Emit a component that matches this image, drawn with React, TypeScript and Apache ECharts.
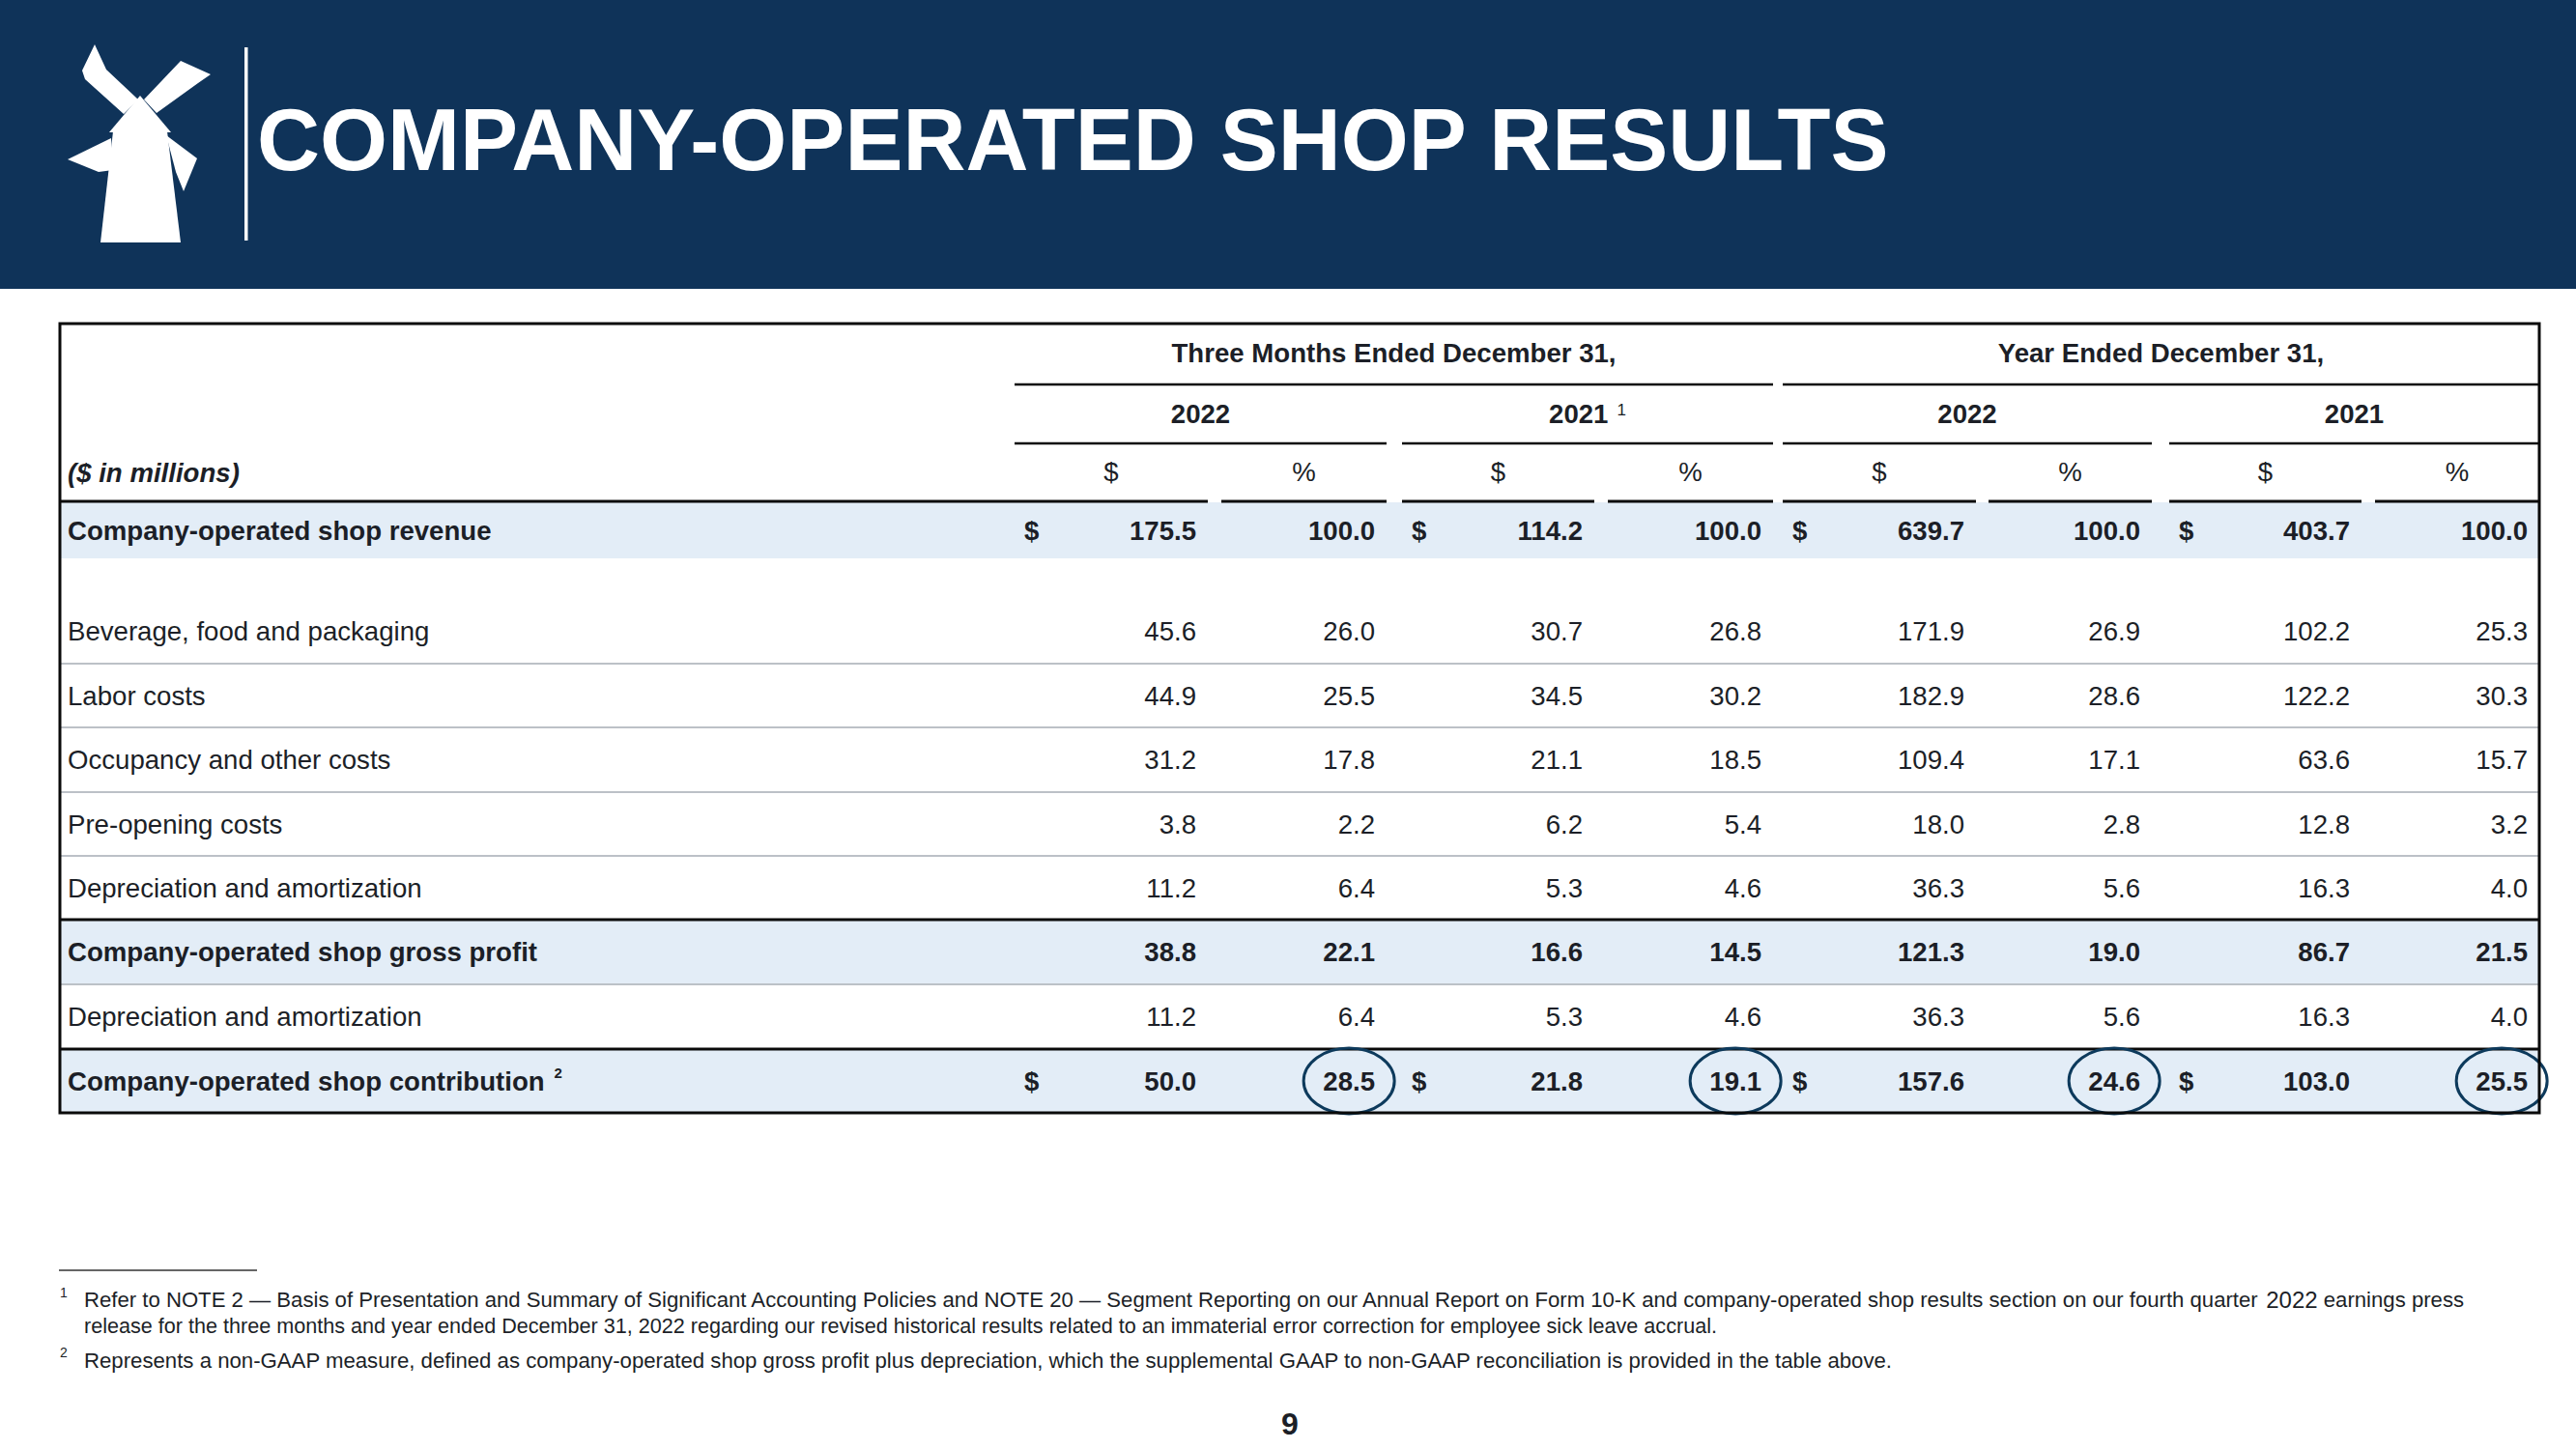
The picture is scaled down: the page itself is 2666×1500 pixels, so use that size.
import React, { useEffect, useRef } from "react";
import * as echarts from "echarts";

// ---------------- data ----------------
const slideTitle = "COMPANY-OPERATED SHOP RESULTS";
const periodHeads = ["Three Months Ended December 31,", "Year Ended December 31,"];
const yearHeads = ["2022", "2021", "2022", "2021"];
const yearNotes = ["", "1", "", ""];
const unitHeads = ["$", "%", "$", "%", "$", "%", "$", "%"];
const unitCaption = "($ in millions)";
const rowLabels = [
  "Company-operated shop revenue",
  "",
  "Beverage, food and packaging",
  "Labor costs",
  "Occupancy and other costs",
  "Pre-opening costs",
  "Depreciation and amortization",
  "Company-operated shop gross profit",
  "Depreciation and amortization",
  "Company-operated shop contribution",
];
const rowNotes = ["", "", "", "", "", "", "", "", "", "2"];
const q4_2022_usd = [175.5, null, 45.6, 44.9, 31.2, 3.8, 11.2, 38.8, 11.2, 50.0];
const q4_2022_pct = [100.0, null, 26.0, 25.5, 17.8, 2.2, 6.4, 22.1, 6.4, 28.5];
const q4_2021_usd = [114.2, null, 30.7, 34.5, 21.1, 6.2, 5.3, 16.6, 5.3, 21.8];
const q4_2021_pct = [100.0, null, 26.8, 30.2, 18.5, 5.4, 4.6, 14.5, 4.6, 19.1];
const fy_2022_usd = [639.7, null, 171.9, 182.9, 109.4, 18.0, 36.3, 121.3, 36.3, 157.6];
const fy_2022_pct = [100.0, null, 26.9, 28.6, 17.1, 2.8, 5.6, 19.0, 5.6, 24.6];
const fy_2021_usd = [403.7, null, 102.2, 122.2, 63.6, 12.8, 16.3, 86.7, 16.3, 103.0];
const fy_2021_pct = [100.0, null, 25.3, 30.3, 15.7, 3.2, 4.0, 21.5, 4.0, 25.5];
const totalRows = [true, false, false, false, false, false, false, true, false, true];
const dollarRows = [true, false, false, false, false, false, false, false, false, true];
const highlightedRows = [false, false, false, false, false, false, false, false, false, true];
const footnoteMarks = ["1", "2"];
const footnote1 = [
  "Refer to NOTE 2 \u2014 Basis of Presentation and Summary of Significant Accounting Policies and NOTE 20 \u2014 Segment Reporting on our Annual Report on Form 10-K and company-operated shop results section on our fourth quarter 2022 earnings press",
  "release for the three months and year ended December 31, 2022 regarding our revised historical results related to an immaterial error correction for employee sick leave accrual.",
];
const footnote2 = [
  "Represents a non-GAAP measure, defined as company-operated shop gross profit plus depreciation, which the supplemental GAAP to non-GAAP reconciliation is provided in the table above.",
];
const pageNumber = "9";

const valueColumns = [q4_2022_usd, q4_2022_pct, q4_2021_usd, q4_2021_pct, fy_2022_usd, fy_2022_pct, fy_2021_usd, fy_2021_pct];

// ---------------- layout / style ----------------
const FONT = '"Liberation Sans", Arial, Helvetica, sans-serif';
const INK = "#1c1f27";
const RULE_DARK = "#0a0a0a";
const RULE_LIGHT = "#bcc1c7";
const BAND = "#e3edf7";
const NAVY = "#0f3359";
const CIRCLE = "#0d3a5c";
const FS = 27.6;
const FN_SIZES = [22.15, 21.6, 22.2];

const TABLE = { left: 62, top: 335, width: 2566, height: 817 };
const LABEL_X = 8;
const VALUE_PAD = 12;
const DOLLAR_PAD = 10;
const COL_START = [988, 1202, 1389, 1602, 1783, 1996, 2183, 2396];
const COL_END = [1188, 1373, 1588, 1773, 1983, 2165, 2382, 2566];
const PERIOD_SPANS = [[988, 1773], [1783, 2566]];
const YEAR_SPANS = [[988, 1373], [1389, 1773], [1783, 2165], [2183, 2566]];
const HEAD_Y = { period: 30, periodRule: 63, year: 93.5, yearRule: 124, unit: 153, unitRule: 184 };
const ROW_EDGES = [185, 243, 285, 352, 418, 485, 551, 617, 684, 751, 817];
const ROW_RULES = ["none", "none", "light", "light", "light", "light", "dark", "light", "dark", "none"];
const ELLIPSE = { rx: 47, ry: 34 };

let measureCtx: CanvasRenderingContext2D | null = null;
function measure(text: string, size: number, weight = "normal", style = "normal") {
  if (!measureCtx) measureCtx = document.createElement("canvas").getContext("2d");
  measureCtx!.font = `${style} ${weight} ${size}px ${FONT}`;
  return measureCtx!.measureText(text).width;
}

function txt(x: number, y: number, text: string, size: number, weight: string, align: string, extra: any = {}) {
  return {
    type: "text",
    x,
    y,
    z2: 10,
    style: {
      text,
      fill: INK,
      fontSize: size,
      fontFamily: FONT,
      fontWeight: weight,
      fontStyle: extra.fontStyle || "normal",
      align,
      verticalAlign: "middle",
    },
  };
}

function renderRow(_params: any, api: any) {
  const i = api.value(1);
  const y0 = ROW_EDGES[i];
  const y1 = ROW_EDGES[i + 1];
  const yc = (y0 + y1) / 2;
  const p = (x: number, y: number) => api.coord([x, y]);
  const children: any[] = [];
  if (totalRows[i]) {
    const a = p(0, y0);
    const b = p(TABLE.width, y1);
    children.push({
      type: "rect",
      z2: 0,
      shape: { x: a[0], y: a[1], width: b[0] - a[0], height: b[1] - a[1] },
      style: { fill: BAND },
    });
  }
  const rule = ROW_RULES[i];
  if (rule !== "none") {
    const a = p(0, y1);
    const b = p(TABLE.width, y1);
    children.push({
      type: "line",
      z2: 5,
      shape: { x1: a[0], y1: a[1], x2: b[0], y2: b[1] },
      style: { stroke: rule === "dark" ? RULE_DARK : RULE_LIGHT, lineWidth: rule === "dark" ? 3 : 2 },
    });
  }
  const weight = totalRows[i] ? "bold" : "normal";
  if (rowLabels[i]) {
    const lp = p(LABEL_X, yc);
    children.push(txt(lp[0], lp[1], rowLabels[i], FS, weight, "left"));
    if (rowNotes[i]) {
      const w = measure(rowLabels[i], FS, weight);
      children.push(txt(lp[0] + w + 10, lp[1] - 9, rowNotes[i], 15, weight, "left"));
    }
  }
  valueColumns.forEach((col, c) => {
    const v = col[i];
    if (v == null) return;
    const s = (v as number).toFixed(1);
    const vp = p(COL_END[c] - VALUE_PAD, yc);
    children.push(txt(vp[0], vp[1], s, FS, weight, "right"));
    if (dollarRows[i] && c % 2 === 0) {
      const dp = p(COL_START[c] + DOLLAR_PAD, yc);
      children.push(txt(dp[0], dp[1], "$", FS, weight, "left"));
    }
    if (highlightedRows[i] && c % 2 === 1) {
      const w = measure(s, FS, weight);
      const sz = api.size([ELLIPSE.rx, ELLIPSE.ry]);
      children.push({
        type: "ellipse",
        z2: 12,
        shape: { cx: vp[0] - w / 2, cy: vp[1], rx: Math.abs(sz[0]), ry: Math.abs(sz[1]) },
        style: { fill: "none", stroke: CIRCLE, lineWidth: 3 },
      });
    }
  });
  return { type: "group", children };
}

function renderHeader(_params: any, api: any) {
  const p = (x: number, y: number) => api.coord([x, y]);
  const children: any[] = [];
  const hline = (x1: number, x2: number, y: number, w: number) => {
    const a = p(x1, y);
    const b = p(x2, y);
    return { type: "line", z2: 6, shape: { x1: a[0], y1: a[1], x2: b[0], y2: b[1] }, style: { stroke: RULE_DARK, lineWidth: w } };
  };
  PERIOD_SPANS.forEach((s, k) => {
    const c = p((s[0] + s[1]) / 2, HEAD_Y.period);
    children.push(txt(c[0], c[1], periodHeads[k], FS, "bold", "center"));
    children.push(hline(s[0], s[1], HEAD_Y.periodRule, 2.5));
  });
  YEAR_SPANS.forEach((s, k) => {
    const c = p((s[0] + s[1]) / 2, HEAD_Y.year);
    const note = yearNotes[k];
    if (note) {
      const wy = measure(yearHeads[k], FS, "bold");
      const gap = 9;
      const wn = measure(note, 17, "normal");
      const left = c[0] - (wy + gap + wn) / 2;
      children.push(txt(left, c[1], yearHeads[k], FS, "bold", "left"));
      children.push(txt(left + wy + gap, c[1] - 4, note, 17, "normal", "left"));
    } else {
      children.push(txt(c[0], c[1], yearHeads[k], FS, "bold", "center"));
    }
    children.push(hline(s[0], s[1], HEAD_Y.yearRule, 2.5));
  });
  unitHeads.forEach((u, c) => {
    const cp = p((COL_START[c] + COL_END[c]) / 2, HEAD_Y.unit);
    children.push(txt(cp[0], cp[1], u, FS, "normal", "center"));
    children.push(hline(c === 0 ? 0 : COL_START[c], COL_END[c], HEAD_Y.unitRule, 3));
  });
  const cap = p(LABEL_X, HEAD_Y.unit + 1);
  children.push(txt(cap[0], cap[1], unitCaption, FS, "bold", "left", { fontStyle: "italic" }));
  const a = p(0, 0);
  const b = p(TABLE.width, TABLE.height);
  children.push({
    type: "rect",
    z2: 20,
    shape: { x: a[0], y: a[1], width: b[0] - a[0], height: b[1] - a[1] },
    style: { fill: "none", stroke: RULE_DARK, lineWidth: 3 },
  });
  return { type: "group", children };
}

function buildGraphic() {
  const white = { fill: "#ffffff" };
  const g: any[] = [
    { type: "rect", shape: { x: 0, y: 0, width: 2666, height: 299 }, style: { fill: NAVY } },
    {
      type: "group",
      children: [
        { type: "polygon", shape: { points: [[85, 73], [98, 46], [110, 72], [143, 103], [128, 118], [88, 82]] }, style: white },
        { type: "polygon", shape: { points: [[187, 63], [218, 77], [205, 86], [162, 117], [149, 103]] }, style: white },
        { type: "polygon", shape: { points: [[113, 137], [145, 99], [177, 137]] }, style: white },
        { type: "polygon", shape: { points: [[117, 136], [173, 136], [187, 251], [104, 251]] }, style: white },
        { type: "polygon", shape: { points: [[70, 165], [115, 143], [117, 176], [102, 178]] }, style: white },
        { type: "polygon", shape: { points: [[172, 140], [204, 164], [190, 198], [182, 178]] }, style: white },
      ],
    },
    { type: "rect", shape: { x: 253, y: 49, width: 3.5, height: 200 }, style: white },
    {
      type: "text",
      x: 266,
      y: 145,
      style: { text: slideTitle, fill: "#ffffff", fontSize: 90, fontWeight: "bold", fontFamily: FONT, align: "left", verticalAlign: "middle" },
    },
    { type: "line", shape: { x1: 61, y1: 1315, x2: 266, y2: 1315 }, style: { stroke: "#333333", lineWidth: 1.5 } },
  ];
  const fnStyle = (text: string, size: number, rich?: any) => ({
    text,
    fill: INK,
    fontSize: size,
    fontFamily: FONT,
    align: "left",
    verticalAlign: "middle",
    ...(rich ? { rich } : {}),
  });
  const rich = { yr: { fontSize: 24, fontFamily: FONT, fill: INK } };
  g.push({ type: "text", x: 62, y: 1338, style: { text: footnoteMarks[0], fill: INK, fontSize: 14, fontFamily: FONT, verticalAlign: "middle" } });
  g.push({ type: "text", x: 87, y: 1345, style: fnStyle(footnote1[0].replace("quarter 2022", "quarter {yr|2022}"), FN_SIZES[0], rich) });
  g.push({ type: "text", x: 87, y: 1372, style: fnStyle(footnote1[1], FN_SIZES[1]) });
  g.push({ type: "text", x: 62, y: 1400, style: { text: footnoteMarks[1], fill: INK, fontSize: 14, fontFamily: FONT, verticalAlign: "middle" } });
  g.push({ type: "text", x: 87, y: 1408, style: fnStyle(footnote2[0], FN_SIZES[2]) });
  g.push({
    type: "text",
    x: 1335,
    y: 1474,
    style: { text: pageNumber, fill: INK, fontSize: 32, fontWeight: "bold", fontFamily: FONT, align: "center", verticalAlign: "middle" },
  });
  return g;
}

export default function App() {
  const ref = useRef<HTMLDivElement>(null);
  useEffect(() => {
    document.body.style.margin = "0";
    if (!ref.current) return;
    const chart = echarts.init(ref.current, null, { renderer: "svg" });
    chart.setOption({
      animation: false,
      backgroundColor: "#ffffff",
      grid: { left: TABLE.left, top: TABLE.top, width: TABLE.width, height: TABLE.height, containLabel: false },
      xAxis: { type: "value", min: 0, max: TABLE.width, show: false },
      yAxis: { type: "value", min: 0, max: TABLE.height, inverse: true, show: false },
      graphic: buildGraphic(),
      series: [
        {
          type: "custom",
          name: "header",
          silent: true,
          clip: false,
          renderItem: renderHeader,
          data: [[0, 0]],
        },
        {
          type: "custom",
          name: "rows",
          silent: true,
          clip: false,
          renderItem: renderRow,
          data: rowLabels.map((_, i) => [0, i]),
        },
      ],
    });
    return () => chart.dispose();
  }, []);
  return <div ref={ref} style={{ width: 2666, height: 1500 }} />;
}
